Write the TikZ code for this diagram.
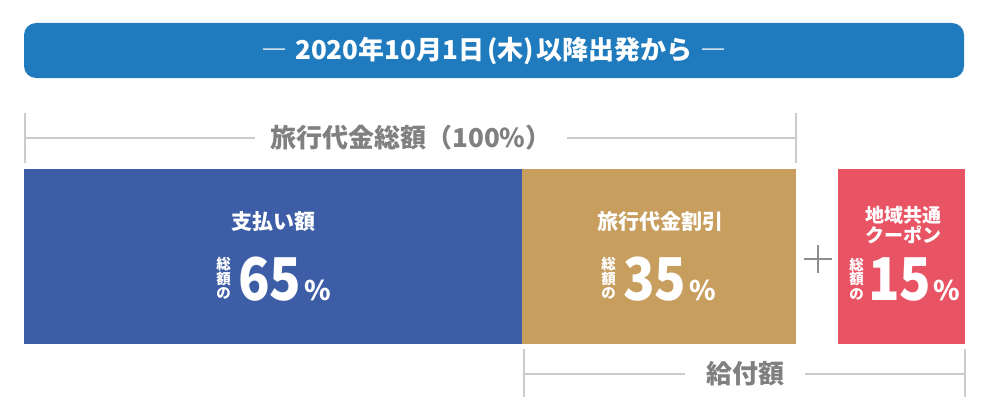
\documentclass[tikz,border=0pt]{standalone}
\usepackage{fontspec}
\setmainfont{Noto Sans CJK JP}
\newfontfamily\numfont{Noto Sans CJK JP}[FakeStretch=0.88]
\usetikzlibrary{positioning}

\definecolor{bannerblue}{HTML}{1F7BBD}
\definecolor{payblue}{HTML}{3D5EA6}
\definecolor{discgold}{HTML}{C89E5F}
\definecolor{couponred}{HTML}{E95464}
\definecolor{labgrey}{HTML}{808080}
\definecolor{linegrey}{HTML}{CCCCCC}

\tikzset{
  bar/.style={draw=none,inner sep=0pt,anchor=north west,minimum height=175pt},
  headtxt/.style={text=white,font=\bfseries\fontsize{21}{23}\selectfont,align=center},
  bignum/.style={text=white,inner sep=0pt,font=\numfont\bfseries\fontsize{59}{60}\selectfont},
  pctsign/.style={text=white,inner sep=0pt,font=\bfseries\fontsize{27}{30}\selectfont},
  vlab/.style={text=white,inner sep=0pt,align=center,font=\bfseries\fontsize{14.5}{14.5}\selectfont},
  brackettxt/.style={text=labgrey,inner ysep=0pt,font=\bfseries},
  guide/.style={draw=linegrey,line width=2pt},
}

\begin{document}
\begin{tikzpicture}[x=1pt,y=-1pt]
\useasboundingbox (0,0) rectangle (990,420);

% banner
\node[fill=bannerblue,rounded corners=12pt,minimum width=940pt,minimum height=55pt,
      text=white,font=\bfseries\fontsize{26}{28}\selectfont] (banner) at (494,50.5)
      {―\hspace{8pt}2020年10月1日\hspace{3pt}(木)\hspace{3pt}以降出発から\hspace{8pt}―};

% total bracket
\coordinate (totL) at (25,138);
\coordinate (totR) at (796,138);
\node[brackettxt,inner xsep=15pt,font=\bfseries\fontsize{26}{28}\selectfont] (totlab) at (411,138) {旅行代金総額（100\%）};
\draw[guide] (25,113) -- (25,163);
\draw[guide] (796,113) -- (796,163);
\draw[guide] (totL) -- (totlab.west);
\draw[guide] (totlab.east) -- (totR);

% bars
\node[bar,fill=payblue,minimum width=498pt] (pay) at (24,169) {};
\node[bar,fill=discgold,minimum width=274pt] (disc) at (522,169) {};
\node[bar,fill=couponred,minimum width=127pt] (coupon) at (838,169) {};

% payment
\node[headtxt] (payhead) at (273,222) {支払い額};
\node[bignum,anchor=base west] (paynum) at (238,300) {65};
\node[pctsign,anchor=base west] (paypct) at ([xshift=3pt]paynum.base east) {\%};
\node[vlab,left=7pt of paynum] (payvl) {総\\額\\の};

% discount
\node[headtxt] (dischead) at (660,222) {旅行代金割引};
\node[bignum,anchor=base west] (discnum) at (623,300) {35};
\node[pctsign,anchor=base west] (discpct) at ([xshift=3pt]discnum.base east) {\%};
\node[vlab,left=7pt of discnum] (discvl) {総\\額\\の};

% plus
\coordinate (plus) at (818,259);
\draw[labgrey!90,line width=2pt] ([xshift=-14pt]plus) -- ([xshift=14pt]plus);
\draw[labgrey!90,line width=2pt] ([yshift=-14pt]plus) -- ([yshift=14pt]plus);

% coupon
\node[headtxt,font=\bfseries\fontsize{19}{18}\selectfont] (couphead) at (903,225) {地域共通\\クーポン};
\node[bignum,anchor=base west] (coupnum) at (868,300) {15};
\node[pctsign,anchor=base west] (couppct) at ([xshift=2pt]coupnum.base east) {\%};
\node[vlab,left=4pt of coupnum] (coupvl) {総\\額\\の};

% benefit bracket
\coordinate (benL) at (524,374);
\coordinate (benR) at (965,374);
\node[brackettxt,inner xsep=21pt,font=\bfseries\fontsize{26}{28}\selectfont] (benlab) at (745,374) {給付額};
\draw[guide] (524,349) -- (524,397);
\draw[guide] (965,349) -- (965,397);
\draw[guide] (benL) -- (benlab.west);
\draw[guide] (benlab.east) -- (benR);
\end{tikzpicture}
\end{document}
